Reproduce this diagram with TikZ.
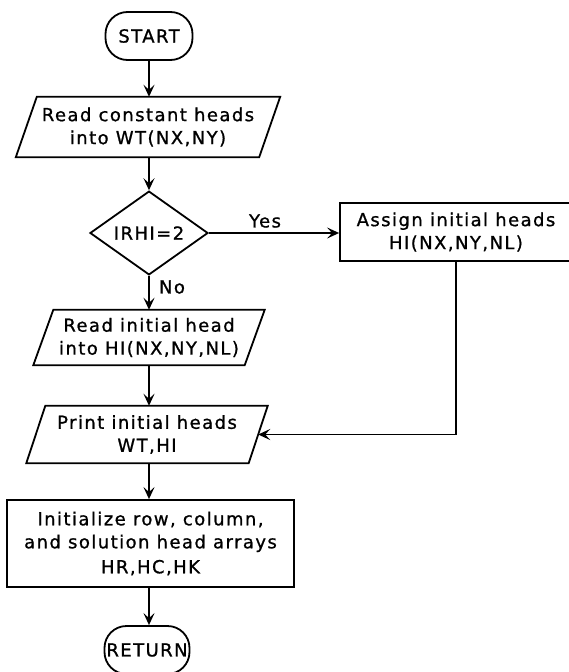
\documentclass[tikz,border=0pt]{standalone}
\usepackage{fontspec}
\setmainfont{DejaVu Sans}[LetterSpace=8, FakeBold=1]
\usetikzlibrary{shapes.geometric,arrows.meta}

% parallelogram outline drawn round an (undrawn) node: #1 node name, #2 half slant
\newcommand\drawio[2]{%
  \draw[outline] ([xshift=#2]#1.north west) -- ([xshift=#2]#1.north east)
    -- ([xshift=-#2]#1.south east) -- ([xshift=-#2]#1.south west) -- cycle;}

\begin{document}
\begin{tikzpicture}[x=1pt,y=-1pt,
  every node/.style={font=\fontsize{18pt}{23pt}\selectfont},
  outline/.style={line width=1.8pt, line join=miter},
  flow/.style={line width=1.8pt, -{Stealth[length=12pt,width=11pt,inset=5pt]}},
  terminal/.style={draw, outline, rounded corners=22pt, minimum width=87pt,
    minimum height=48pt, inner sep=0pt},
  process/.style={draw, outline, align=center, inner sep=0pt},
  iobox/.style={align=center, inner sep=0pt},
  decision/.style={draw, outline, diamond, minimum width=118pt,
    minimum height=74pt, inner sep=0pt},
  lbl/.style={inner sep=0pt}]
\useasboundingbox (0,0) rectangle (569,672);

\node[terminal] (start) at (149,36) {START};
\node[iobox, minimum width=243pt, minimum height=60pt] (rc) at (148,127)
  {Read constant heads\\into WT(NX,NY)};
\drawio{rc}{10.5pt}
\node[decision] (dec) at (149,233) {IRHI=2};
\node[process, minimum width=232pt, minimum height=58pt] (assign) at (456,232)
  {Assign initial heads\\HI(NX,NY,NL)};
\node[iobox, minimum width=211pt, minimum height=55pt] (ri) at (149,337.5)
  {Read initial head\\into HI(NX,NY,NL)};
\drawio{ri}{10pt}
\node[iobox, minimum width=222pt, minimum height=57pt] (pr) at (147,434.5)
  {Print initial heads\\WT,HI};
\drawio{pr}{9.5pt}
\node[process, minimum width=287pt, minimum height=87pt] (init) at (150.5,543.5)
  {Initialize row, column,\\and solution head arrays\\[2pt]HR,HC,HK};
\node[terminal, minimum width=85pt] (ret) at (147,650) {RETURN};

\node[lbl] (yes) at (265,221) {Yes};
\node[lbl] (no) at (172,287) {No};

\draw[flow] (start.south) -- (start.south |- rc.north);
\draw[flow] (dec.north |- rc.south) -- (dec.north);
\draw[flow] (dec.south) -- (dec.south |- ri.north);
\draw[flow] (dec.east) -- (dec.east -| assign.west);
\draw[flow] (dec.south |- ri.south) -- (dec.south |- pr.north);
\draw[flow] (dec.south |- pr.south) -- (dec.south |- init.north);
\draw[flow] (dec.south |- init.south) -- (dec.south |- ret.north);
\draw[flow] (assign.south) |- (pr.east);
\end{tikzpicture}
\end{document}
